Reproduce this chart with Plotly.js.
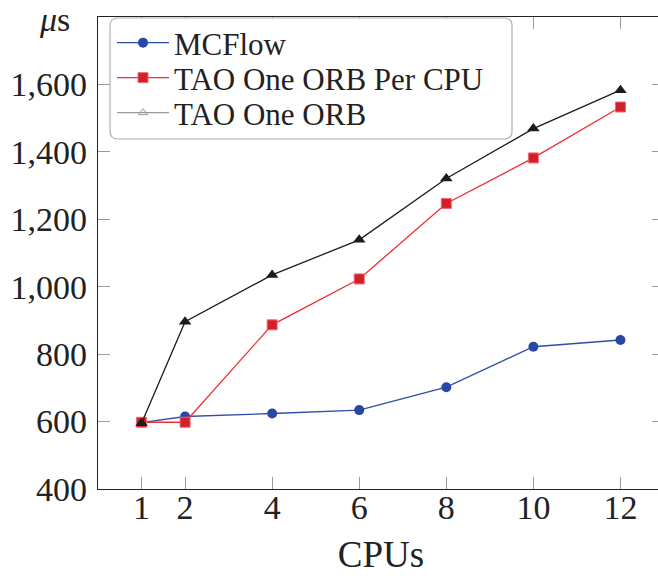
<!DOCTYPE html>
<html>
<head>
<meta charset="utf-8">
<script src="https://cdn.plot.ly/plotly-3.0.1.min.js"></script>
<style>
  html, body { margin: 0; padding: 0; overflow: hidden; background: #fff; }
  #chart svg text { font-family: 'Liberation Serif', serif !important; }
</style>
</head>
<body>
<div id="chart" style="width:664px;height:576px"></div>
<script>
// ---- data ----
var cpus = [1, 2, 4, 6, 8, 10, 12];
var mcflow = [597, 615, 624, 634, 702, 822, 842];
var taoPerCpu = [598, 598, 887, 1023, 1247, 1382, 1533];
var taoOne = [595, 896, 1035, 1139, 1321, 1469, 1583];
var xTicks = [1, 2, 4, 6, 8, 10, 12];
var yTicks = [400, 600, 800, 1000, 1200, 1400, 1600];
var seriesNames = ['MCFlow', 'TAO One ORB Per CPU', 'TAO One ORB'];

var serifFamily = 'Liberation Serif';

// plot area geometry (px)
var L = 98, T = 17, W = 664, H = 576, R = 0, B = 87;
var pw = W - L - R, ph = H - T - B;
function px2x(p) { return (p - L) / pw; }
function py2y(p) { return (H - B - p) / ph; }

function roundRect(x0, y0, x1, y1, r) {
  var X = px2x, Y = py2y;
  return 'M ' + X(x0 + r) + ' ' + Y(y0) +
    ' L ' + X(x1 - r) + ' ' + Y(y0) +
    ' Q ' + X(x1) + ' ' + Y(y0) + ' ' + X(x1) + ' ' + Y(y0 + r) +
    ' L ' + X(x1) + ' ' + Y(y1 - r) +
    ' Q ' + X(x1) + ' ' + Y(y1) + ' ' + X(x1 - r) + ' ' + Y(y1) +
    ' L ' + X(x0 + r) + ' ' + Y(y1) +
    ' Q ' + X(x0) + ' ' + Y(y1) + ' ' + X(x0) + ' ' + Y(y1 - r) +
    ' L ' + X(x0) + ' ' + Y(y0 + r) +
    ' Q ' + X(x0) + ' ' + Y(y0) + ' ' + X(x0 + r) + ' ' + Y(y0) + ' Z';
}

var traces = [
  {
    x: cpus, y: mcflow, name: seriesNames[0], mode: 'lines+markers', legend: 'legend',
    line: { color: '#2f4ea8', width: 1.3 },
    marker: { symbol: 'circle', size: 10, color: '#2a47a6', line: { width: 0 } }
  },
  {
    x: cpus, y: taoPerCpu, name: seriesNames[1], mode: 'lines+markers', legend: 'legend2',
    line: { color: '#ef2d35', width: 1.3 },
    marker: { symbol: 'square', size: 10, color: '#d31f2b', line: { color: '#f06a70', width: 1 } }
  },
  {
    x: cpus, y: taoOne, name: seriesNames[2], mode: 'lines+markers', showlegend: false,
    line: { color: '#1c1c1c', width: 1.3 },
    marker: { symbol: 'triangle-up', size: 11, color: '#1c1c1c', line: { width: 0 } }
  },
  {
    // legend entry only (pgfplots draws this legend sample in grey with an open triangle)
    x: [null], y: [null], name: seriesNames[2], mode: 'lines+markers', legend: 'legend3',
    line: { color: '#9a9a9a', width: 1.3 },
    marker: { symbol: 'triangle-up-open', size: 8, color: '#9a9a9a', line: { width: 1 } }
  }
];

function legendRow(py) {
  return {
    x: px2x(112), y: py2y(py), xanchor: 'left', yanchor: 'middle',
    bgcolor: 'rgba(0,0,0,0)', borderwidth: 0,
    font: { family: serifFamily, size: 31, color: '#222222' },
    tracegroupgap: 0, itemwidth: 52
  };
}

var layout = {
  width: W, height: H,
  margin: { l: L, r: R, t: T, b: B, pad: 0 },
  paper_bgcolor: '#ffffff', plot_bgcolor: '#ffffff',
  showlegend: true,
  legend: legendRow(43),
  legend2: legendRow(78),
  legend3: legendRow(113),
  xaxis: {
    range: [0, 13], tickvals: xTicks, ticktext: xTicks.map(String),
    showgrid: false, zeroline: false,
    showline: true, linecolor: '#222222', linewidth: 1.3, mirror: 'allticks',
    ticks: 'inside', ticklen: 12, tickcolor: '#9a9a9a', tickwidth: 1,
    tickfont: { family: serifFamily, size: 34, color: '#222222' },
    ticklabelstandoff: -12,
    title: { text: 'CPUs', font: { family: serifFamily, size: 37, color: '#222222' }, standoff: 16 }
  },
  yaxis: {
    range: [400, 1800], tickvals: yTicks, ticktext: yTicks.map(function (v) { return v.toLocaleString('en-US'); }),
    showgrid: false, zeroline: false,
    showline: true, linecolor: '#222222', linewidth: 1.3, mirror: 'allticks',
    ticks: 'inside', ticklen: 12, tickcolor: '#9a9a9a', tickwidth: 1,
    tickfont: { family: serifFamily, size: 34, color: '#222222' },
    ticklabelstandoff: 3
  },
  shapes: [
    {
      type: 'path', xref: 'paper', yref: 'paper', layer: 'above',
      path: roundRect(110, 18, 512, 139, 8),
      line: { color: '#b0b0b0', width: 1.2 }, fillcolor: 'rgba(255,255,255,1)'
    }
  ],
  annotations: [
    {
      xref: 'paper', yref: 'paper', x: px2x(54), y: py2y(20), xanchor: 'center', yanchor: 'middle',
      text: '<i>μ</i>s', showarrow: false,
      font: { family: serifFamily, size: 34, color: '#222222' }
    }
  ]
};

Plotly.newPlot('chart', traces, layout, { displayModeBar: false, staticPlot: true });
</script>
</body>
</html>
